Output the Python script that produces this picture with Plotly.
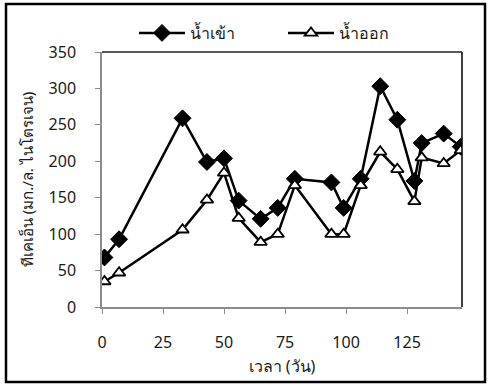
import plotly.graph_objects as go

# Total Kjeldahl nitrogen (mg/L as N) over the operating period
days = [1, 7, 33, 43, 50, 56, 65, 72, 79, 94, 99, 106, 114, 121, 128, 131, 140, 147]
tkn_in = [68, 93, 259, 199, 204, 146, 121, 136, 176, 171, 136, 176, 303, 257, 173, 225, 238, 220]
tkn_out = [35, 47, 106, 147, 184, 122, 89, 100, 167, 100, 100, 167, 213, 189, 145, 205, 197, 215]

name_in = "น้ำเข้า"
name_out = "น้ำออก"
x_title = "เวลา (วัน)"
y_title = "ทีเคเอ็น (มก./ล. ไนโตรเจน)"
x_ticks = [0, 25, 50, 75, 100, 125]
y_ticks = [0, 50, 100, 150, 200, 250, 300, 350]

FONT = "Noto Sans, DejaVu Sans, sans-serif"
AXIS_GREY = "#8c8c8c"

fig = go.Figure()
fig.add_trace(go.Scatter(
    x=days, y=tkn_in, name=name_in, mode="lines+markers",
    line=dict(color="black", width=2.5),
    marker=dict(symbol="diamond", size=13, color="black",
                line=dict(color="black", width=1)),
))
fig.add_trace(go.Scatter(
    x=days, y=tkn_out, name=name_out, mode="lines+markers",
    line=dict(color="black", width=2.5),
    marker=dict(symbol="triangle-up", size=11, color="white",
                line=dict(color="black", width=1.8)),
))

# Top and right edges of the plot area
fig.add_shape(type="line", xref="paper", yref="paper", x0=0, x1=1, y0=1, y1=1,
              line=dict(color="#222222", width=1.5))
fig.add_shape(type="line", xref="paper", yref="paper", x0=1, x1=1, y0=0, y1=1,
              line=dict(color="black", width=1.5))
# Frame round the whole chart
fig.add_shape(type="rect", xref="paper", yref="paper",
              x0=-96 / 360, x1=383 / 360, y0=-75 / 255, y1=303 / 255,
              line=dict(color="black", width=2.5), layer="below")

fig.update_layout(
    width=488, height=385,
    margin=dict(l=102, r=26, t=52, b=78, autoexpand=False),
    paper_bgcolor="white", plot_bgcolor="white",
    font=dict(family=FONT, size=16, color="#1a1a1a"),
    showlegend=True,
    legend=dict(orientation="h", xref="container", yref="container",
                x=134 / 488, y=1 - 33 / 385, xanchor="left", yanchor="middle",
                font=dict(size=16), bgcolor="rgba(0,0,0,0)",
                itemwidth=46, entrywidth=88, tracegroupgap=0),
    xaxis=dict(range=[0, 147.5], tickvals=x_ticks, showgrid=False, zeroline=False,
               showline=True, linecolor=AXIS_GREY, linewidth=1.5,
               ticks="outside", ticklen=5, tickcolor=AXIS_GREY,
               ticklabelstandoff=15,
               title=dict(text=x_title, standoff=9, font=dict(size=16))),
    yaxis=dict(range=[0, 350], tickvals=y_ticks, showgrid=False, zeroline=False,
               showline=True, linecolor=AXIS_GREY, linewidth=1.5,
               ticks="outside", ticklen=5, tickcolor=AXIS_GREY,
               ticklabelstandoff=16,
               title=dict(text=y_title, standoff=11, font=dict(size=15))),
)

fig.write_html("out.html")
